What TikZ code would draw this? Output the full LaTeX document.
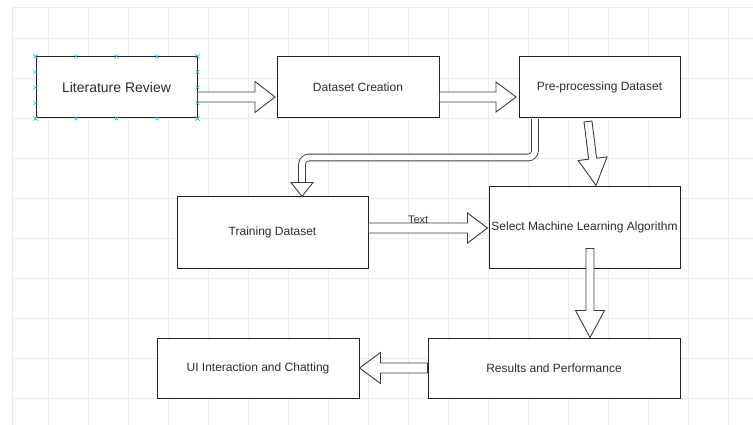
\documentclass[tikz,border=0pt]{standalone}
\usepackage{fontspec}
\setmainfont{Liberation Sans}
\usetikzlibrary{calc}
\definecolor{gridc}{RGB}{236,236,236}
\definecolor{linec}{RGB}{35,35,35}
\definecolor{arrowc}{RGB}{60,60,60}
\definecolor{textc}{RGB}{45,45,45}
\definecolor{markc}{RGB}{60,170,230}
% #1 start, #2 tip, #3 body half width, #4 head half width, #5 head length
\newcommand\FlexArrow[5]{%
  \coordinate (fab) at ($(#2)!#5pt!(#1)$);
  \draw[flexbody] ($(#1)!#3pt!90:(#2)$) -- ($(fab)!#3pt!-90:(#1)$) -- ($(fab)!#4pt!-90:(#1)$) -- (#2)
    -- ($(fab)!#4pt!90:(#1)$) -- ($(fab)!#3pt!90:(#1)$) -- ($(#1)!#3pt!-90:(#2)$) -- cycle;
}
\begin{document}
\begin{tikzpicture}[x=1pt,y=-1pt,
  box/.style={draw=linec, line width=1pt, fill=white, text=textc, font=\fontsize{12}{14}\selectfont, inner sep=0pt},
  flexbody/.style={draw=arrowc, line width=0.9pt, fill=white, line join=miter},
  elbow/.style={draw=arrowc, line width=0.9pt, double=white, double distance=5.8pt, rounded corners=7pt},
  handle/.style={draw=markc, line width=0.6pt},
  lbl/.style={text=textc, font=\fontsize{11}{13}\selectfont, inner sep=0pt},
  gridline/.style={draw=gridc, line width=0.7pt}]
\useasboundingbox (0,0) rectangle (753,425);
\fill[white] (0,0) rectangle (753,425);
% grid
\foreach \gx in {48,88,...,728} { \draw[gridline] (\gx,7) -- (\gx,425); }
\foreach \gy in {38,78,...,398} { \draw[gridline] (12,\gy) -- (753,\gy); }
\draw[gridline] (12,425) -- (12,7) -- (753,7);
% boxes
\node[box, minimum width=161pt, minimum height=61pt] (lit) at (116.5,87.5) {\fontsize{14}{16}\selectfont Literature Review};
\node[box, minimum width=162pt, minimum height=61pt] (dc) at (358,87.5) {Dataset Creation};
\node[box, minimum width=161pt, minimum height=61pt] (pp) at (599.5,87.5) {Pre-processing Dataset};
\node[box, minimum width=191pt, minimum height=71pt] (td) at (272.5,232.5) {Training Dataset};
\node[box, minimum width=191pt, minimum height=81pt] (ml) at (584.5,227.5) {Select Machine Learning Algorithm};
\node[box, minimum width=202pt, minimum height=60pt] (ui) at (258,368) {UI Interaction and Chatting};
\node[box, minimum width=252pt, minimum height=60pt] (res) at (554,368) {Results and Performance};
% connection handles on the selected box
\foreach \t in {0,0.25,0.5,0.75,1} {
  \draw[handle] ($(lit.north west)!\t!(lit.north east)$) +(-2,-2) -- +(2,2) +(-2,2) -- +(2,-2);
  \draw[handle] ($(lit.south west)!\t!(lit.south east)$) +(-2,-2) -- +(2,2) +(-2,2) -- +(2,-2);
  \draw[handle] ($(lit.north west)!\t!(lit.south west)$) +(-2,-2) -- +(2,2) +(-2,2) -- +(2,-2);
  \draw[handle] ($(lit.north east)!\t!(lit.south east)$) +(-2,-2) -- +(2,2) +(-2,2) -- +(2,-2);
}
% arrow end points
\coordinate (a1s) at ($(lit.east)+(0,9.5)$);
\coordinate (a1e) at ($(dc.west)+(-1.5,9.5)$);
\coordinate (a2s) at ($(dc.east)+(0,9.5)$);
\coordinate (a2e) at ($(pp.west)+(-2.5,9.5)$);
\coordinate (a3s) at ($(pp.south)+(-64.5,0.6)$);
\coordinate (a3k) at ($(td.north)+(29.5,-39)$);
\coordinate (a3b) at ($(td.north)+(29.5,-14)$);
\coordinate (a3t) at ($(td.north)+(29.5,0)$);
\coordinate (a4s) at ($(pp.south)+(-11.5,3)$);
\coordinate (a4e) at ($(ml.north)+(11.5,-1)$);
\coordinate (a5s) at ($(td.east)+(0,-4.5)$);
\coordinate (a5e) at ($(ml.west)+(-1,0.5)$);
\coordinate (a6s) at ($(ml.south)+(5.5,-20)$);
\coordinate (a6e) at ($(res.north)+(36,0)$);
\coordinate (a7s) at (res.west);
\coordinate (a7e) at (ui.east);
% arrows
\FlexArrow{a1s}{a1e}{5}{15.5}{20}
\FlexArrow{a2s}{a2e}{5}{15}{20}
\draw[elbow] (a3s) |- (a3k) -- (a3b);
\draw[flexbody] ($(a3b)+(-11,0)$) -- (a3t) -- ($(a3b)+(11,0)$) -- cycle;
\FlexArrow{a4s}{a4e}{4}{14.5}{27}
\FlexArrow{a5s}{a5e}{5}{15}{20}
\FlexArrow{a6s}{a6e}{4}{14.5}{27}
\FlexArrow{a7s}{a7e}{5}{15.5}{21}
\path (a5s) -- (a5e) node[lbl, pos=0.417, anchor=base, yshift=5pt] (t5) {Text};
\end{tikzpicture}
\end{document}
